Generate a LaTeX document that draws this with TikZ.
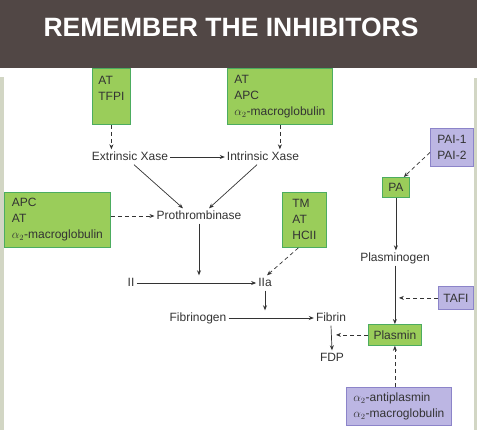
\documentclass[tikz,border=0pt]{standalone}
\usepackage{fontspec}
\setmainfont{Liberation Sans}
\usetikzlibrary{arrows.meta,positioning}
\definecolor{headgray}{RGB}{81,71,69}
\definecolor{stripgray}{RGB}{210,214,196}
\definecolor{inhgreen}{RGB}{154,205,90}
\definecolor{inhgreenline}{RGB}{76,172,96}
\definecolor{inhpurple}{RGB}{188,182,227}
\definecolor{inhpurpleline}{RGB}{140,132,201}
\definecolor{textgray}{RGB}{51,51,51}

\begin{document}
\begin{tikzpicture}[x=1pt, y=-1pt,
    greenbox/.style={rectangle, draw=inhgreenline, fill=inhgreen, line width=0.8pt, anchor=north west, align=left, inner sep=4pt, font=\fontsize{12}{16}\selectfont, text=textgray},
    purplebox/.style={greenbox, draw=inhpurpleline, fill=inhpurple},
    txtnode/.style={font=\fontsize{12}{16}\selectfont, text=textgray, inner sep=2pt, text height=8.5pt, text depth=2.5pt},
    arrow/.style={-{Stealth[length=5pt,width=4pt]}, line width=0.7pt, draw=textgray},
    dasharrow/.style={arrow, dash pattern=on 4pt off 3pt}
]
    \useasboundingbox (0,0) rectangle (477,432);

    % Header and side strips
    \fill[headgray] (0,0) rectangle (477,68);
    \node[font=\fontsize{26.5}{30}\selectfont\bfseries, text=white] (title) at (231,27.5) {REMEMBER THE INHIBITORS};
    \fill[stripgray] (0,77) rectangle (4,430);
    \fill[stripgray] (474,78) rectangle (477,430);

    % Inhibitor boxes
    \node[greenbox, minimum width=38pt, minimum height=56pt] (tfpi) at (92,68) {AT\\TFPI\\\mbox{}};
    \node[greenbox, minimum width=105pt, minimum height=56pt] (atapc) at (227,68) {AT\\APC\\$\alpha_2$-macroglobulin};
    \node[greenbox, minimum width=106pt, minimum height=55pt] (apc) at (4,192) {APC\\AT\\$\alpha_2$-macroglobulin};
    \node[greenbox, minimum width=44pt, minimum height=55pt] (tm) at (282,192) {TM\\AT\\HCII};
    \node[greenbox, minimum width=27pt, minimum height=20pt] (pa) at (382,177) {PA};
    \node[greenbox, minimum width=53pt, minimum height=21pt] (plasmin) at (368,324) {Plasmin};
    \node[purplebox, minimum width=43pt, minimum height=38pt] (pai) at (430,128) {PAI-1\\PAI-2};
    \node[purplebox, minimum width=35pt, minimum height=23pt] (tafi) at (438,286) {TAFI};
    \node[purplebox, minimum width=105pt, minimum height=38pt] (anti) at (346,387) {$\alpha_2$-antiplasmin\\$\alpha_2$-macroglobulin};

    % Cascade
    \node[txtnode] (extx) at (130,157) {Extrinsic Xase};
    \node[txtnode] (intx) at (263,157) {Intrinsic Xase};
    \node[txtnode] (prot) at (199,216) {Prothrombinase};
    \node[txtnode] (fii) at (131,283) {II};
    \node[txtnode] (fiia) at (265,283) {IIa};
    \node[txtnode] (fbg) at (198,318) {Fibrinogen};
    \node[txtnode] (fib) at (331,318) {Fibrin};
    \node[txtnode] (fdp) at (332,358) {FDP};
    \node[txtnode] (plg) at (395,258) {Plasminogen};
    \coordinate (fdpmid) at (336,335);

    % Arrows
    \draw[arrow] (extx) -- (intx);
    \draw[dasharrow] (tfpi.south) -- (tfpi.south |- extx.north);
    \draw[dasharrow] (atapc.south) -- (atapc.south |- intx.north);
    \draw[arrow] ([xshift=4pt]extx.south) -- ([xshift=-16pt]prot.north);
    \draw[arrow] ([xshift=-6pt]intx.south) -- ([xshift=10pt]prot.north);
    \draw[dasharrow] (apc.east |- prot.west) -- (prot.west);
    \draw[arrow] (fii) -- (fiia);
    \draw[arrow] (prot.south) -- (prot.south |- fii.north);
    \draw[dasharrow] ([xshift=-6pt]tm.south) -- ([xshift=2pt]fiia.north);
    \draw[arrow] (fiia.south) -- (fiia.south |- fbg.north);
    \draw[arrow] (fbg) -- (fib);
    \draw[arrow] (fib.south) -- (fdp.north);
    \draw[dasharrow] (plasmin.west) -- (plasmin.west -| fdpmid);
    \draw[dasharrow] (plasmin.south |- anti.north) -- (plasmin.south);
    \draw[dasharrow] ([yshift=-5pt]pai.west) -- ([xshift=-6pt]pa.north east);
    \draw[arrow] (pa.south) -- (pa.south |- plg.north);
    \draw[arrow] (plasmin.north |- plg.south) -- (plasmin.north);
    \draw[dasharrow] (tafi.west) -- ([xshift=4pt]tafi.west -| plasmin.north);
\end{tikzpicture}
\end{document}
